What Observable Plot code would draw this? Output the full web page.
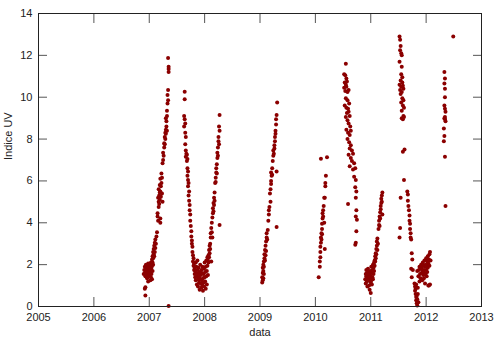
<!DOCTYPE html>
<html><head><meta charset="utf-8">
<script src="https://cdn.jsdelivr.net/npm/d3@7"></script>
<script src="https://cdn.jsdelivr.net/npm/@observablehq/plot@0.6"></script>
<style>body{margin:0;background:#fff}</style>
</head><body><div id="chart"></div>
<script>
// [decimal year, UV index]
const season2007a = [[2006.93,0.52],[2006.92,0.85],[2006.93,0.92],
[2006.90,1.55],[2006.91,1.75],[2006.92,1.6],[2006.92,1.9],[2006.93,1.45],[2006.94,1.7],[2006.94,2.0],[2006.95,1.55],[2006.95,1.8],[2006.96,1.35],[2006.96,1.65],[2006.97,1.9],[2006.97,1.5],[2006.98,1.75],[2006.98,2.05],[2006.99,1.6],[2006.99,1.85],[2007.00,1.45],[2007.00,1.7],[2007.00,2.0],[2007.01,1.55],[2007.01,1.8],[2007.02,1.95],[2007.02,1.65],[2007.03,1.4],[2007.03,1.75],[2007.03,2.1],[2007.04,1.85],[2007.04,1.55],[2007.05,1.95],[2007.05,1.3],[2007.06,2.1],[2007.06,1.7],[2007.07,2.0],[2006.98,1.2],[2007.02,1.25],
[2007.05,2.25],[2007.06,2.4],[2007.07,2.6],[2007.07,2.3],[2007.08,2.5],[2007.08,2.75],[2007.09,2.4],[2007.09,2.9],[2007.10,2.6],[2007.10,3.05],[2007.11,2.8],[2007.11,3.2],[2007.12,3.0],[2007.13,3.35],[2007.14,3.55],
[2007.15,4.3],[2007.15,4.45],[2007.16,4.1],[2007.17,4.75],[2007.17,5.0],[2007.16,5.2],[2007.18,4.9],[2007.18,5.3],[2007.19,5.1],[2007.19,5.45],[2007.20,4.0],[2007.20,4.2],[2007.17,5.6],[2007.19,5.8],[2007.20,5.5],[2007.21,5.75],[2007.21,5.25],[2007.22,5.9],[2007.20,6.1],[2007.22,6.35],[2007.23,5.4],[2007.23,6.15],[2007.24,5.0],
[2007.24,6.85],[2007.25,7.0],[2007.25,7.35],[2007.26,7.2],[2007.27,7.6],[2007.27,7.8],[2007.28,7.75],[2007.28,8.1],[2007.29,8.3],[2007.29,8.0],[2007.30,8.45],[2007.30,8.25],[2007.31,8.6],[2007.31,8.85],[2007.32,8.4],[2007.30,9.0],[2007.32,9.1],
[2007.32,9.35],[2007.33,9.7],[2007.34,9.85],[2007.33,10.1],[2007.34,10.35],[2007.35,11.2],[2007.35,11.35],[2007.35,11.45],[2007.34,11.87],[2007.35,0.02]];

const season2007b = [[2007.64,10.26],[2007.64,9.9],[2007.63,9.1],[2007.64,8.95],[2007.65,8.75],[2007.63,8.6],[2007.65,8.3],[2007.66,8.1],[2007.65,7.75],[2007.66,7.45],[2007.67,7.3],[2007.66,7.15],[2007.68,7.25],[2007.68,6.95],[2007.69,7.05],[2007.69,6.6],[2007.70,6.45],[2007.69,6.25],[2007.70,6.05],[2007.71,5.9],[2007.70,5.75],[2007.72,5.5],[2007.71,5.3],[2007.72,5.05],[2007.73,4.85],[2007.73,4.6],[2007.74,4.4],[2007.74,4.1],[2007.75,3.85],[2007.76,3.6],[2007.76,3.35],[2007.77,3.15],[2007.77,3.0],[2007.78,2.85],[2007.78,2.6],[2007.79,2.45],[2007.80,2.3],[2007.79,2.15],
[2007.80,1.95],[2007.81,1.75],[2007.81,2.05],[2007.82,1.55],[2007.82,1.85],[2007.83,1.4],[2007.83,1.7],[2007.84,2.1],[2007.84,1.25],[2007.85,1.6],[2007.85,1.9],[2007.86,1.05],[2007.86,1.45],[2007.87,1.75],[2007.87,2.2],[2007.88,1.3],[2007.88,0.95],[2007.89,1.55],[2007.89,1.85],[2007.90,1.15],[2007.90,1.4],[2007.91,0.8],[2007.91,1.65],[2007.92,1.3],[2007.92,2.0],[2007.93,1.1],[2007.93,1.5],[2007.94,0.9],[2007.94,1.75],[2007.95,1.25],[2007.95,1.6],[2007.96,1.0],[2007.96,1.9],[2007.97,1.35],[2007.97,0.75],[2007.98,1.55],[2007.98,1.15],[2007.99,1.8],[2007.99,0.95],[2008.00,1.4],[2008.00,2.1],[2008.01,1.2],[2008.01,1.65],[2008.02,0.85],[2008.02,1.9],[2008.03,1.45],[2008.03,2.2],[2008.04,1.05],[2008.04,1.7],[2008.05,1.95],[2008.05,2.35],[2008.06,1.5],
[2008.06,2.2],[2008.07,2.45],[2008.07,2.1],[2008.08,2.7],[2008.08,2.35],[2008.09,2.9],[2008.09,2.55],[2008.10,3.0],[2008.10,2.75],[2008.11,3.3],[2008.12,2.15],[2008.11,3.5],[2008.12,3.75],[2008.13,3.55],[2008.13,4.0],[2008.14,4.25],[2008.14,3.3],[2008.15,4.45],[2008.15,4.7],[2008.16,4.55],[2008.16,4.95],[2008.17,5.2],[2008.17,4.85],[2008.18,5.45],[2008.18,5.05],[2008.19,5.9],[2008.20,6.15],[2008.20,5.95],[2008.21,6.4],[2008.21,6.6],[2008.22,6.8],[2008.22,6.35],[2008.23,7.1],[2008.23,7.35],[2008.24,7.2],[2008.24,7.6],[2008.25,7.9],[2008.25,8.1],[2008.26,7.75],[2008.26,8.6],[2008.27,8.4],[2008.27,9.15],[2008.27,3.9]];

const season2009 = [[2009.04,1.15],[2009.04,1.4],[2009.05,1.25],[2009.05,1.6],[2009.05,1.85],[2009.06,1.35],[2009.06,1.7],[2009.06,2.0],[2009.07,1.55],[2009.07,2.15],[2009.07,1.9],[2009.08,2.3],[2009.08,2.5],[2009.09,2.2],[2009.09,2.7],[2009.10,2.45],[2009.10,2.9],[2009.11,2.65],[2009.11,3.1],[2009.12,3.3],[2009.12,3.5],[2009.13,3.2],[2009.14,3.65],[2009.15,4.1],[2009.16,4.4],[2009.16,4.6],[2009.17,4.75],[2009.19,5.0],[2009.18,5.4],[2009.19,5.6],[2009.20,5.85],[2009.20,6.0],[2009.21,6.25],[2009.20,6.4],[2009.22,6.6],[2009.22,6.3],[2009.23,6.95],[2009.24,7.2],[2009.24,7.45],[2009.25,7.3],[2009.26,7.7],[2009.26,7.55],[2009.27,7.9],[2009.27,8.1],[2009.28,8.25],[2009.28,8.4],[2009.29,8.7],[2009.29,8.95],[2009.30,9.15],[2009.31,9.75],[2009.30,6.45],[2009.30,3.8]];

const season2010a = [[2010.06,1.4],[2010.08,1.9],[2010.08,2.15],[2010.09,2.35],[2010.09,2.6],[2010.09,2.85],[2010.10,3.05],[2010.10,3.3],[2010.11,3.2],[2010.11,3.5],[2010.12,3.7],[2010.12,3.45],[2010.12,3.95],[2010.13,4.2],[2010.13,4.45],[2010.14,4.6],[2010.14,4.3],[2010.15,4.8],[2010.16,5.2],[2010.17,5.2],[2010.18,5.75],[2010.18,5.9],[2010.19,6.25],[2010.10,7.06],[2010.21,7.13],[2010.17,2.75],[2010.16,4.0]];

const season2010b = [[2010.55,11.6],[2010.52,11.1],[2010.54,11.05],[2010.56,10.9],[2010.53,10.7],[2010.55,10.6],[2010.57,10.75],[2010.52,10.45],[2010.54,10.3],[2010.56,10.5],[2010.58,10.25],[2010.60,10.35],[2010.55,9.95],[2010.58,9.85],[2010.61,9.7],[2010.53,9.6],[2010.56,9.5],[2010.59,9.45],[2010.57,9.25],[2010.60,9.3],[2010.62,9.1],[2010.55,9.05],[2010.58,8.9],[2010.60,8.75],[2010.63,8.6],[2010.56,8.45],[2010.59,8.3],[2010.62,8.2],[2010.64,8.4],[2010.58,8.0],[2010.61,7.85],[2010.64,7.7],[2010.62,7.55],[2010.66,7.45],[2010.60,7.25],[2010.64,7.1],[2010.68,7.3],[2010.66,6.95],[2010.70,6.85],[2010.62,6.7],[2010.68,6.55],[2010.72,6.6],[2010.70,6.2],[2010.73,6.05],[2010.72,5.7],[2010.74,5.5],[2010.73,5.2],[2010.59,4.9],[2010.74,4.6],[2010.73,4.3],[2010.75,4.15],[2010.74,3.6],[2010.72,2.95],[2010.73,3.05]];

const season2011a = [[2010.90,1.3],[2010.91,1.55],[2010.91,1.1],[2010.92,1.45],[2010.92,1.75],[2010.93,1.2],[2010.93,1.6],[2010.94,1.35],[2010.94,0.95],[2010.95,1.5],[2010.95,1.8],[2010.96,1.25],[2010.96,1.65],[2010.97,1.0],[2010.97,1.4],[2010.98,1.55],[2010.98,0.8],[2010.99,1.3],[2010.99,1.7],[2011.00,1.15],[2011.00,0.65],[2011.00,1.45],[2011.01,1.9],[2011.01,1.25],[2011.02,1.6],[2011.02,1.05],[2011.03,1.75],[2011.03,1.4],[2011.04,2.0],[2011.04,1.3],[2011.05,1.85],[2011.05,1.55],[2011.06,2.1],[2011.06,1.7],
[2011.07,2.2],[2011.07,1.95],[2011.08,2.4],[2011.08,2.15],[2011.09,2.55],[2011.09,2.3],[2011.10,2.75],[2011.10,2.5],[2011.11,2.9],[2011.11,3.1],[2011.12,2.7],[2011.12,3.25],[2011.13,3.0],[2011.14,3.7],[2011.15,3.9],[2011.15,4.1],[2011.16,3.85],[2011.16,4.3],[2011.17,4.5],[2011.17,4.2],[2011.18,4.65],[2011.18,4.8],[2011.19,4.95],[2011.19,5.15],[2011.20,5.3],[2011.20,5.0],[2011.21,5.45],[2011.21,4.4]];

const season2011b = [[2011.52,12.9],[2011.53,12.75],[2011.54,12.45],[2011.53,12.25],[2011.55,12.1],[2011.52,11.7],[2011.56,12.0],[2011.56,11.45],[2011.55,11.1],[2011.57,10.95],[2011.54,10.8],[2011.57,10.7],[2011.52,10.6],[2011.55,10.5],[2011.58,10.55],[2011.53,10.35],[2011.56,10.25],[2011.59,10.4],[2011.54,10.15],[2011.57,9.95],[2011.59,9.85],[2011.55,9.75],[2011.58,9.6],[2011.60,9.5],[2011.56,9.35],[2011.59,9.1],[2011.56,9.0],[2011.58,8.95],[2011.60,9.05],[2011.61,7.5],[2011.58,7.4],[2011.60,6.05],[2011.54,5.2],[2011.66,5.5],[2011.67,5.35],[2011.67,5.05],[2011.68,4.8],[2011.69,4.6],[2011.70,4.35],[2011.70,4.1],[2011.71,3.95],[2011.71,3.7],[2011.72,3.5],[2011.72,3.3],[2011.73,3.2],[2011.53,3.75],[2011.52,3.3]];

const season2012a = [[2011.74,2.55],[2011.75,2.25],[2011.73,1.8],[2011.76,1.75],[2011.74,1.4],
[2011.79,1.1],[2011.80,0.95],[2011.80,0.75],[2011.81,0.6],[2011.81,0.85],[2011.82,0.45],[2011.82,0.3],[2011.83,0.5],[2011.83,0.15],[2011.84,0.05],[2011.84,0.35],[2011.85,0.6],[2011.85,0.9],[2011.86,0.2],[2011.82,1.05],
[2011.84,1.7],[2011.86,1.45],[2011.87,1.75],[2011.88,1.2],[2011.88,1.9],[2011.89,1.55],[2011.90,1.8],[2011.90,1.35],[2011.91,2.0],[2011.92,1.6],[2011.92,1.85],[2011.93,1.25],[2011.94,1.7],[2011.94,2.1],[2011.95,1.5],[2011.95,1.95],[2011.96,1.35],[2011.96,1.75],[2011.97,2.2],[2011.97,1.6],[2011.98,1.9],[2011.98,1.1],[2011.99,1.55],[2011.99,2.0],[2012.00,1.75],[2012.00,2.3],[2012.01,1.45],[2012.01,1.95],[2012.02,2.15],[2012.02,1.65],[2012.03,1.85],[2012.03,2.4],[2012.04,2.05],[2012.04,1.0],[2012.05,2.25],[2012.05,1.0],[2012.06,2.5],[2012.06,1.95],[2012.07,2.6],[2012.07,1.05],[2012.08,2.2]];

const season2012b = [[2012.33,11.2],[2012.34,10.9],[2012.33,10.65],[2012.34,10.4],[2012.34,10.0],[2012.33,9.6],[2012.34,9.45],[2012.35,9.3],[2012.33,9.0],[2012.34,8.95],[2012.35,8.85],[2012.34,9.05],[2012.32,8.5],[2012.33,8.15],[2012.32,7.9],[2012.34,7.15],[2012.35,4.8],[2012.49,12.9]];

const xTicks = [2005, 2006, 2007, 2008, 2009, 2010, 2011, 2012, 2013];
const yTicks = [0, 2, 4, 6, 8, 10, 12, 14];
const xLabel = "data";
const yLabel = "Indice UV";

const seasons = [season2007a, season2007b, season2009, season2010a, season2010b, season2011a, season2011b, season2012a, season2012b];
const points = seasons.flat().map(([year, uv]) => ({year, uv}));

const tickColor = "#555";
const chart = Plot.plot({
  width: 498, height: 340,
  marginLeft: 38, marginRight: 17, marginTop: 13, marginBottom: 34,
  style: {fontFamily: "'Liberation Sans', Arial, sans-serif", fontSize: "11px", background: "#fff", color: "#222"},
  x: {domain: [2005, 2013]},
  y: {domain: [0, 14]},
  marks: [
    Plot.dot(points, {x: "year", y: "uv", r: 2, fill: "#8b0000", stroke: null}),
    Plot.axisX(xTicks, {anchor: "bottom", tickSize: -9, tickPadding: 16, stroke: tickColor, tickFormat: d => String(d), label: null}),
    Plot.axisX(xTicks, {anchor: "top", tickSize: -9, stroke: tickColor, tickFormat: () => "", label: null}),
    Plot.axisY(yTicks, {anchor: "left", tickSize: -9, tickPadding: 15, stroke: tickColor, tickFormat: d => String(d), label: null}),
    Plot.axisY(yTicks, {anchor: "right", tickSize: -9, stroke: tickColor, tickFormat: () => "", label: null}),
    Plot.frame({stroke: "#222"}),
    Plot.text([yLabel], {frameAnchor: "left", dx: -30, rotate: -90, text: d => d, fill: "#222"}),
    Plot.text([xLabel], {frameAnchor: "bottom", dy: 29, text: d => d, fill: "#222"})
  ]
});
document.getElementById("chart").append(chart);
</script>
</body></html>
